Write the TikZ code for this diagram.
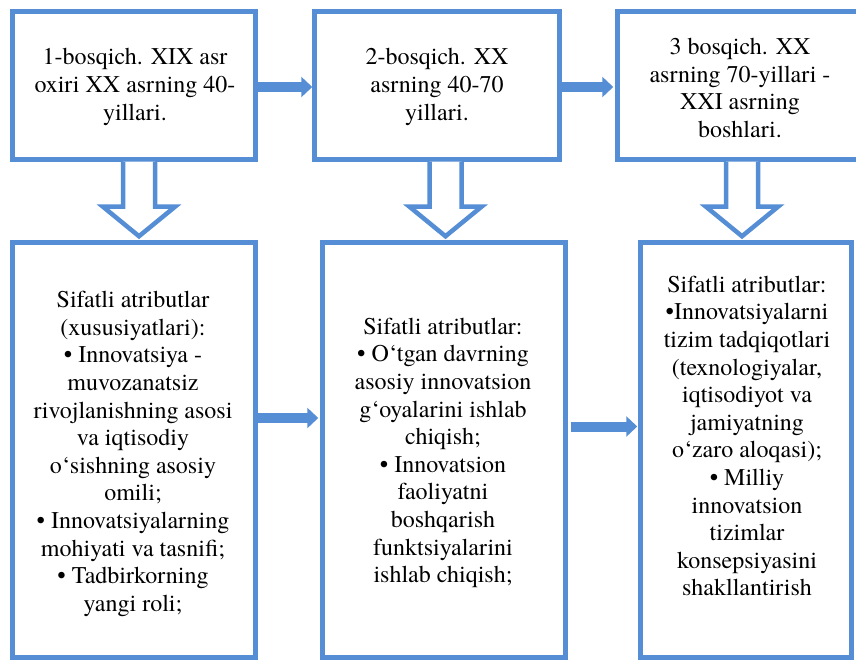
\documentclass[tikz,border=0pt]{standalone}
\usepackage{fontspec}
\setmainfont{TeX Gyre Termes}
\usetikzlibrary{calc,arrows.meta}
\definecolor{bblue}{HTML}{558ED5}
\newcommand\blockdown[3]{%
  \draw[hollow] let \p1=(#1.south), \p2=(#2.north) in
    (\x1+#3-16pt,\y1) -- (\x1+#3-16pt,\y2+33.5pt) -- (\x1+#3-36pt,\y2+33.5pt)
    -- (\x1+#3,\y2+4pt) -- (\x1+#3+36pt,\y2+33.5pt) -- (\x1+#3+16pt,\y2+33.5pt)
    -- (\x1+#3+16pt,\y1);}
\begin{document}
\begin{tikzpicture}[x=1pt,y=-1pt,
  box/.style={draw=bblue,line width=4.5pt,fill=white,inner sep=0pt,minimum width=#1},
  box/.default=243pt,
  txt/.style={inner sep=0pt,align=center,font=\fontsize{24}{27.6}\selectfont},
  fat/.style={draw=bblue,line width=10pt,-{Triangle[length=11pt,width=20pt]}},
  hollow/.style={draw=bblue,line width=4.5pt,fill=white,line join=miter}]
\useasboundingbox (0,0) rectangle (856,660);
\clip (0,0) rectangle (856,660);
% top boxes
\node[box=243pt,minimum height=148pt] (b1) at (134,85.5) {};
\node[box=245pt,minimum height=148pt] (b2) at (437,85.5) {};
\node[box=249pt,minimum height=148pt] (b3) at (742,85.5) {};
% bottom boxes
\node[box=243pt,minimum height=415pt] (b4) at (134,450) {};
\node[box=243pt,minimum height=415pt] (b5) at (444,450) {};
\node[box=211pt,minimum height=415pt] (b6) at (746,450) {};
% texts
\node[txt] (t1) at (135,87) {1-bosqich. XIX asr\\oxiri XX asrning 40-\\yillari.};
\node[txt] (t2) at (437,87) {2-bosqich. XX\\asrning 40-70\\yillari.};
\node[txt] (t3) at (740,88) {3 bosqich. XX\\asrning 70-yillari -\\XXI asrning\\boshlari.};
\node[txt] (t4) at (133,454) {Sifatli atributlar\\(xususiyatlari):\\• Innovatsiya -\\muvozanatsiz\\rivojlanishning asosi\\va iqtisodiy\\o‘sishning asosiy\\omili;\\• Innovatsiyalarning\\mohiyati va tasnifi;\\• Tadbirkorning\\yangi roli;};
\node[txt] (t5) at (443,453) {Sifatli atributlar:\\• O‘tgan davrning\\asosiy innovatsion\\g‘oyalarini ishlab\\chiqish;\\• Innovatsion\\faoliyatni\\boshqarish\\funktsiyalarini\\ishlab chiqish;};
\node[txt] (t6) at (747,436) {Sifatli atributlar:\\•Innovatsiyalarni\\tizim tadqiqotlari\\(texnologiyalar,\\iqtisodiyot va\\jamiyatning\\o‘zaro aloqasi);\\• Milliy\\innovatsion\\tizimlar\\konsepsiyasini\\shakllantirish};
% horizontal arrows
\draw[fat] ($(b1.east)+(0,1.5)$) -- ($(b2.west)+(0,1.5)$);
\draw[fat,shorten >=2pt] ($(b2.east)+(0,1.5)$) -- ($(b3.west)+(0,1.5)$);
\draw[fat,shorten >=2pt] ($(b4.east)+(0,-32)$) -- ($(b5.west)+(0,-32)$);
\draw[fat,shorten >=1pt] ($(b5.east)+(3,-23.5)$) -- ($(b6.west)+(0,-23.5)$);
% hollow down arrows
\blockdown{b1}{b4}{5pt}
\blockdown{b2}{b5}{8.5pt}
\blockdown{b3}{b6}{0pt}
\end{tikzpicture}
\end{document}
